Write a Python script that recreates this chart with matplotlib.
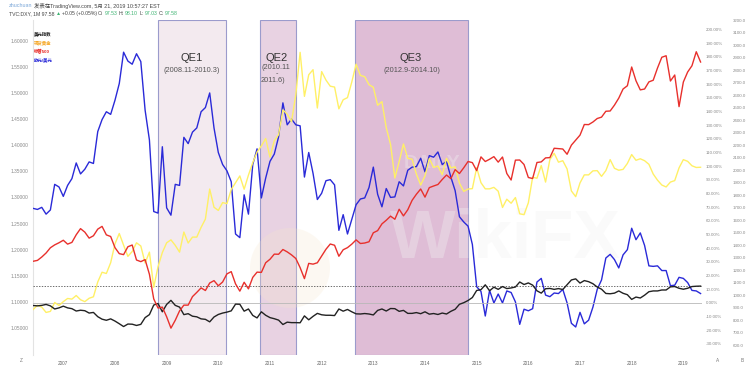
import numpy as np
import pandas as pd
import matplotlib
matplotlib.use("Agg")
import matplotlib.pyplot as plt
from matplotlib.patches import Ellipse

plt.rcParams['font.family'] = ['Liberation Sans', 'Noto Sans CJK SC', 'DejaVu Sans']

# ---------------- data (monthly, Jun 2006 - May 2019) ----------------
start = "2006-06"
eurusd = [1.279, 1.277, 1.281, 1.268, 1.276, 1.325, 1.320,
          1.302, 1.323, 1.336, 1.366, 1.345, 1.354, 1.368, 1.365, 1.426, 1.449, 1.464, 1.459,
          1.486, 1.518, 1.578, 1.561, 1.555, 1.575, 1.560, 1.467, 1.410, 1.273, 1.270, 1.397,
          1.280, 1.266, 1.325, 1.323, 1.415, 1.403, 1.425, 1.433, 1.464, 1.472, 1.500, 1.433,
          1.386, 1.363, 1.351, 1.330, 1.230, 1.223, 1.305, 1.268, 1.363, 1.393, 1.299, 1.337,
          1.369, 1.383, 1.416, 1.481, 1.439, 1.450, 1.439, 1.437, 1.339, 1.386, 1.346, 1.296,
          1.308, 1.332, 1.334, 1.324, 1.237, 1.267, 1.230, 1.258, 1.286, 1.297, 1.299, 1.319,
          1.358, 1.306, 1.282, 1.317, 1.300, 1.301, 1.330, 1.322, 1.352, 1.358, 1.359, 1.375,
          1.349, 1.380, 1.377, 1.387, 1.363, 1.369, 1.339, 1.313, 1.263, 1.253, 1.245, 1.210,
          1.129, 1.120, 1.073, 1.122, 1.098, 1.115, 1.098, 1.121, 1.118, 1.100, 1.057, 1.086,
          1.083, 1.087, 1.138, 1.145, 1.113, 1.110, 1.117, 1.116, 1.124, 1.098, 1.059, 1.052,
          1.080, 1.058, 1.065, 1.090, 1.124, 1.142, 1.184, 1.191, 1.181, 1.165, 1.190, 1.200,
          1.241, 1.219, 1.232, 1.208, 1.169, 1.168, 1.169, 1.160, 1.160, 1.131, 1.132, 1.147,
          1.145, 1.137, 1.122, 1.121, 1.116]

spx = [1270, 1277, 1304, 1336, 1378, 1401, 1418,
       1438, 1407, 1421, 1482, 1531, 1503, 1455, 1474, 1527, 1549, 1481, 1468,
       1379, 1331, 1323, 1386, 1400, 1280, 1267, 1283, 1166, 969, 896, 903,
       826, 735, 798, 873, 919, 919, 987, 1021, 1057, 1036, 1096, 1115,
       1074, 1104, 1169, 1187, 1089, 1031, 1102, 1049, 1141, 1183, 1181, 1258,
       1286, 1327, 1326, 1364, 1345, 1321, 1292, 1219, 1131, 1253, 1247, 1258,
       1312, 1366, 1408, 1398, 1310, 1362, 1379, 1407, 1441, 1412, 1416, 1426,
       1498, 1515, 1569, 1598, 1631, 1606, 1686, 1633, 1682, 1757, 1806, 1848,
       1783, 1859, 1872, 1884, 1924, 1960, 1931, 2003, 1972, 2018, 2068, 2059,
       1995, 2105, 2068, 2086, 2107, 2063, 2104, 1972, 1920, 2079, 2080, 2044,
       1940, 1932, 2060, 2065, 2097, 2099, 2174, 2171, 2168, 2126, 2199, 2239,
       2279, 2364, 2363, 2384, 2412, 2423, 2470, 2472, 2519, 2575, 2648, 2674,
       2824, 2714, 2641, 2648, 2705, 2718, 2816, 2902, 2914, 2712, 2760, 2507,
       2704, 2784, 2834, 2946, 2864]

gold = [613, 633, 624, 599, 604, 646, 632,
        650, 665, 662, 679, 659, 650, 666, 673, 743, 789, 783, 834,
        923, 972, 917, 864, 887, 928, 913, 833, 884, 718, 815, 882,
        928, 942, 916, 884, 979, 927, 955, 955, 1001, 1040, 1182, 1096,
        1081, 1118, 1113, 1180, 1212, 1244, 1181, 1248, 1307, 1357, 1386, 1421,
        1333, 1410, 1439, 1556, 1536, 1500, 1628, 1828, 1620, 1722, 1746, 1565,
        1737, 1697, 1668, 1664, 1561, 1604, 1614, 1688, 1772, 1719, 1713, 1675,
        1663, 1578, 1595, 1472, 1393, 1234, 1312, 1395, 1327, 1323, 1253, 1201,
        1244, 1326, 1284, 1291, 1250, 1327, 1282, 1287, 1210, 1171, 1182, 1184,
        1283, 1212, 1183, 1183, 1190, 1172, 1095, 1134, 1115, 1142, 1065, 1061,
        1117, 1238, 1233, 1293, 1215, 1321, 1351, 1309, 1316, 1277, 1173, 1146,
        1211, 1249, 1249, 1268, 1269, 1242, 1269, 1321, 1280, 1271, 1275, 1303,
        1345, 1318, 1325, 1316, 1299, 1253, 1224, 1201, 1192, 1215, 1222, 1282,
        1321, 1313, 1292, 1284, 1285]

dxy = [85.2, 85.0, 85.3, 85.9, 85.0, 83.0, 83.7,
       84.8, 83.7, 83.2, 81.7, 82.2, 81.9, 80.4, 80.8, 78.1, 76.5, 75.8, 76.7,
       75.3, 73.6, 71.8, 73.4, 73.3, 72.5, 73.2, 77.5, 79.4, 85.5, 86.5, 81.2,
       85.9, 88.5, 85.3, 84.2, 79.4, 80.0, 78.4, 78.0, 76.7, 76.4, 74.8, 77.9,
       79.5, 80.4, 81.0, 81.8, 86.1, 86.0, 81.6, 83.0, 78.9, 77.3, 81.2, 79.0,
       77.5, 76.8, 75.9, 73.1, 74.6, 74.3, 74.3, 74.2, 78.6, 76.1, 78.3, 80.2,
       79.3, 79.0, 79.0, 78.8, 83.0, 81.6, 82.7, 81.2, 79.9, 79.8, 80.1, 79.8,
       79.2, 82.1, 83.0, 81.7, 83.3, 83.2, 81.5, 82.1, 80.2, 80.2, 80.7, 80.0,
       81.2, 79.7, 80.1, 79.5, 80.4, 79.8, 81.5, 82.8, 86.0, 87.0, 88.4, 90.3,
       94.8, 95.3, 98.4, 94.6, 96.9, 95.5, 97.3, 96.0, 96.4, 97.0, 100.2, 98.6,
       99.6, 98.2, 94.6, 93.1, 95.9, 96.1, 95.5, 96.0, 95.4, 98.5, 101.5, 102.2,
       99.5, 101.1, 100.4, 99.1, 97.0, 95.6, 92.9, 92.7, 93.1, 94.5, 93.0, 92.1,
       89.1, 90.6, 90.0, 91.8, 94.0, 94.5, 94.5, 95.1, 95.1, 97.1, 97.3, 96.2,
       95.6, 96.2, 97.3, 97.5, 97.58]

gold_base = 645.0      # percent-scale reference
dxy_base = 87.0

years = list(range(2007, 2020))
left_ticks = [1.05, 1.10, 1.15, 1.20, 1.25, 1.30, 1.35, 1.40, 1.45, 1.50, 1.55, 1.60]
pct_ticks = list(range(-30, 201, 10))
price_ticks = list(range(600, 3201, 100))

qe_names = ["QE1", "QE2", "QE3"]
qe_start = [2008.83, 2010.81, 2012.65]
qe_end = [2010.15, 2011.50, 2014.83]

legend_names = ["美元指数", "现货黄金", "标普500", "欧元/美元"]

# ---------------- helpers ----------------
W, H = 751, 372
def fx(px): return px / W
def fy(py): return 1 - py / H

dates = pd.period_range(start, periods=len(eurusd), freq="M")
t = np.array([d.year + (d.month - 1) / 12 for d in dates])

gold_pct = (np.array(gold) / gold_base - 1) * 100
dxy_pct = (np.array(dxy) / dxy_base - 1) * 100

fig = plt.figure(figsize=(W / 100, H / 100), dpi=100)
fig.patch.set_facecolor("white")
renderer = fig.canvas.get_renderer()

def seq_text(x0, y0, parts, size):
    x = x0
    for s, c in parts:
        tx = fig.text(fx(x), fy(y0), s, ha="left", va="center", fontsize=size, color=c)
        x += tx.get_window_extent(renderer).width + 1.2

L, R, T, B = 33, 702, 20, 355
ax = fig.add_axes([fx(L), fy(B), fx(R - L), (B - T) / H])
ax.set_xlim(2006.4136, 2019.361)
ax.set_ylim(0.99835, 1.63962)
axp = ax.twinx()
axp.set_ylim(-38.31, 207.1)
axb = ax.twinx()
axb.set_ylim(520.1, 3200)

for a in (ax, axp, axb):
    for s in a.spines.values():
        s.set_visible(False)
ax.spines['left'].set_visible(True)
ax.spines['left'].set_color('#e3e3e3')
ax.spines['left'].set_linewidth(0.8)

# QE boxes
qe_fill = ["#f3eaef", "#e8d2e2", "#dfbdd6"]
for s, e, c in zip(qe_start, qe_end, qe_fill):
    ax.axvspan(s, e, facecolor=c, edgecolor="#9b9bcc", linewidth=0.8, zorder=0)

# faint watermark (between boxes and lines)
ax.text(fx(505), fy(240), "WikiFX", transform=fig.transFigure, ha="center", va="center",
        fontsize=50, fontweight="bold", color="#f2f2f2", alpha=0.35, zorder=1)
ax.text(fx(432), fy(163), "DAILY", transform=fig.transFigure, ha="center", va="center",
        fontsize=14, fontweight="bold", color="#f2f2f2", alpha=0.35, zorder=1)
ax.add_patch(Ellipse((fx(290), fy(268)), 80 / W, 80 / H, transform=fig.transFigure,
                     facecolor="#f6e6cc", edgecolor="none", alpha=0.25, zorder=1))

# lines
ax.plot(t, eurusd, color="#2a2ad8", lw=1.0, zorder=3)
axp.axhline(0, color="#b8b8b8", lw=0.6, zorder=1)
axp.axhline(dxy_pct[-1], color="#333333", lw=0.5, ls=(0, (2, 2)), zorder=1)
axp.plot(t, gold_pct, color="#fff066", lw=1.0, zorder=2)
axp.plot(t, dxy_pct, color="#222222", lw=1.0, zorder=3)
axb.plot(t, spx, color="#e8302c", lw=1.0, zorder=3)

# ticks
ax.set_xticks(years)
ax.set_xticklabels([str(y) for y in years])
ax.tick_params(axis='x', length=0, labelsize=3.4, colors="#666666", pad=4)
ax.set_yticks(left_ticks)
ax.set_yticklabels([f"{v:.5f}" for v in left_ticks])
ax.tick_params(axis='y', length=0, labelsize=3.5, colors="#8a8a8a", pad=3)

axp.set_yticks(pct_ticks)
axp.set_yticklabels([f"{v:.2f}%" for v in pct_ticks])
axp.tick_params(axis='y', length=0, labelsize=3.2, colors="#8a8a8a", pad=2.5)
axb.set_yticks(price_ticks)
axb.set_yticklabels([f"{v:.1f}" for v in price_ticks])
axb.tick_params(axis='y', length=0, labelsize=3.2, colors="#8a8a8a", pad=22)

# QE labels
fig.text(fx(192), fy(58.3), "QE1", ha="center", va="center", fontsize=8, color="#333333")
fig.text(fx(192), fy(70.7), "(2008.11-2010.3)", ha="center", va="center", fontsize=5.3, color="#555555")
fig.text(fx(277), fy(58), "QE2", ha="center", va="center", fontsize=8, color="#333333")
fig.text(fx(261), fy(67.7), "(2010.11", ha="left", va="center", fontsize=5.3, color="#555555")
fig.text(fx(277), fy(74), "-", ha="center", va="center", fontsize=5.3, color="#555555")
fig.text(fx(261), fy(81), "2011.6)", ha="left", va="center", fontsize=5.3, color="#555555")
fig.text(fx(410.7), fy(58.3), "QE3", ha="center", va="center", fontsize=8, color="#333333")
fig.text(fx(411.7), fy(70.7), "(2012.9-2014.10)", ha="center", va="center", fontsize=5.3, color="#555555")

# legend
leg_colors = ["#222222", "#f5a623", "#e8211d", "#2a2ad8"]
for i, (n, c) in enumerate(zip(legend_names, leg_colors)):
    fig.text(fx(34), fy(34 + i * 8.7), n, ha="left", va="center", fontsize=3.2,
             color=c, fontweight="bold")

# header
g = "#3cb371"
d = "#444444"
seq_text(9, 5.7, [("zhuchuan", "#7aa7d8"),
                  ("发表在TradingView.com, 5月 21, 2019 10:57:27 EST", d)], 3.9)
seq_text(9, 13.3, [("TVC:DXY, 1M 97.58", d), ("▲", g), ("+0.05 (+0.05%)", d),
                   ("O:", d), ("97.53", g), ("H:", d), ("98.10", g),
                   ("L:", d), ("97.03", g), ("C:", d), ("97.58", g)], 3.7)

# scale names
fig.text(fx(21), fy(361), "Z", ha="center", va="center", fontsize=3.4, color="#777777")
fig.text(fx(718), fy(361), "A", ha="center", va="center", fontsize=3.4, color="#777777")
fig.text(fx(742), fy(361), "B", ha="center", va="center", fontsize=3.4, color="#777777")

fig.savefig("out.png", dpi=100, facecolor="white")
